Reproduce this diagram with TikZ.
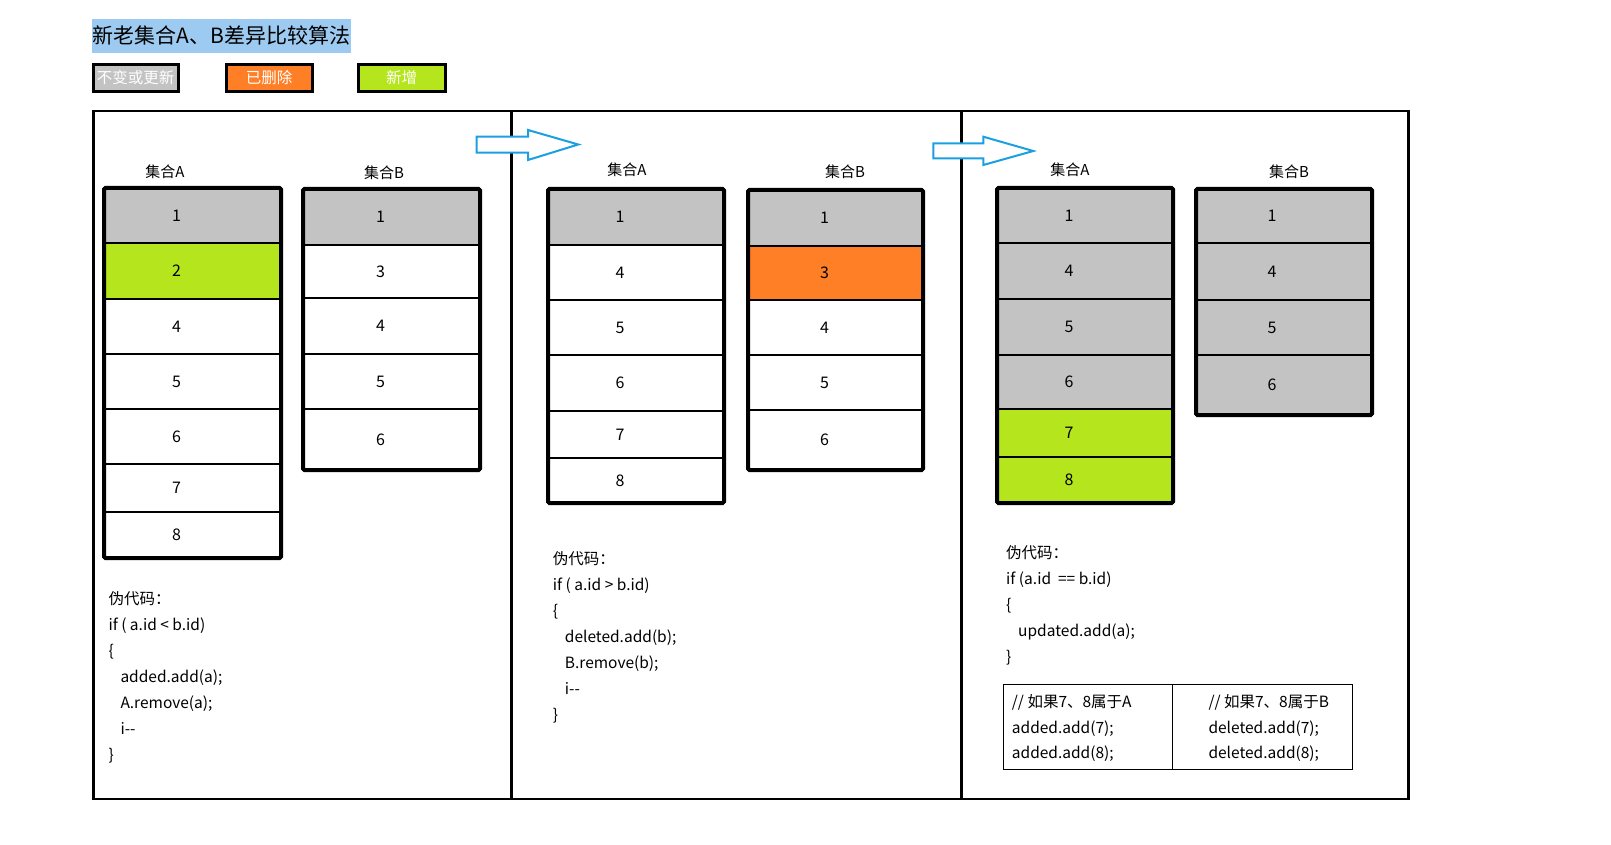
\documentclass[tikz,border=0pt]{standalone}
\usepackage{fontspec}
\setmainfont{Noto Sans CJK SC}
\usetikzlibrary{positioning}
\definecolor{setgray}{HTML}{C3C3C3}
\definecolor{setgreen}{HTML}{B5E61D}
\definecolor{setorange}{HTML}{FF7F27}
\definecolor{setblue}{HTML}{1A9FE0}
\definecolor{titleblue}{HTML}{9DCAF0}
% one column of ids: name, left, right, text shift, rows top/bottom/id/fill
\newcommand{\drawset}[5]{%
  \foreach \ya/\yb/\lbl/\fc [count=\i] in {#5} {
    \node[cell,fill=\fc,minimum width={(#3-#2)*1pt},minimum height={(\yb-\ya)*1pt}]
      (#1-\i) at ({(#2+#3)/2},{(\ya+\yb)/2}) {};
    \node[num] (#1-\i-n) at ([xshift=#4pt]#1-\i.center) {\lbl};
    \xdef\lastrow{\i}
  }
  \draw[setframe] (#1-1.north west) rectangle (#1-\lastrow.south east);
}

\begin{document}
\begin{tikzpicture}[
  x=1pt,y=-1pt,
  cell/.style={draw=black,line width=2.5pt,inner sep=0,outer sep=0},
  setframe/.style={draw=black,line width=4pt,rounded corners=1.5pt},
  num/.style={inner sep=0,font=\fontsize{16}{16}\selectfont},
  setname/.style={inner sep=0,font=\fontsize{15}{16}\selectfont},
  title/.style={fill=titleblue,minimum width=259pt,minimum height=34pt,inner sep=0,
                font=\fontsize{21}{22}\selectfont},
  legend/.style={draw=black,line width=3pt,text=white,minimum height=27pt,inner sep=0,
                 font=\fontsize{15.5}{16}\selectfont},
  rule/.style={draw=black,line width=2.5pt},
  blockarrow/.style={draw=setblue,line width=2pt,fill=white,line join=miter},
  code/.style={anchor=north west,align=left,inner sep=0,font=\fontsize{15.5}{26}\selectfont},
  tbl/.style={draw=black,line width=1.2pt,inner sep=0,outer sep=0,minimum height=85pt}
]
  \useasboundingbox (0,0) rectangle (1611,845);

  \node[title] (ttl) at (221.5,36) {新老集合A、B差异比较算法};
  \node[legend,fill=setgray,minimum width=85pt] (keep) at (135.5,78) {不变或更新};
  \node[legend,fill=setorange,minimum width=86pt] (del) at (269,78) {已删除};
  \node[legend,fill=setgreen,minimum width=87pt] (add) at (401.5,78) {新增};

  \node[rule,minimum width=1315pt,minimum height=688pt,inner sep=0,outer sep=0] (frame) at (751,455) {};
  \coordinate (cut1) at (511.7,0);
  \coordinate (cut2) at (961.7,0);
  \draw[rule] (frame.north -| cut1) -- (frame.south -| cut1);
  \draw[rule] (frame.north -| cut2) -- (frame.south -| cut2);

  \draw[blockarrow] (476.7,136.7) -- (528,136.7) -- (528,130) -- (578.3,144.5)
    -- (528,160) -- (528,152.7) -- (476.7,152.7) -- cycle;
  \draw[blockarrow] (933.3,143.3) -- (983.3,143.3) -- (983.3,136.7) -- (1033.3,151)
    -- (983.3,165) -- (983.3,158.3) -- (933.3,158.3) -- cycle;

  \node[setname] (p1a-l) at (165,172) {集合A};
  \node[setname] (p1b-l) at (384,173) {集合B};
  \node[setname] (p2a-l) at (627,170) {集合A};
  \node[setname] (p2b-l) at (845,172) {集合B};
  \node[setname] (p3a-l) at (1070,170) {集合A};
  \node[setname] (p3b-l) at (1289,172) {集合B};

  \drawset{p1a}{104}{281}{-16}{188/243/1/setgray,243/299/2/setgreen,299/354/4/white,
    354/409/5/white,409/464/6/white,464/512/7/white,512/558/8/white}
  \drawset{p1b}{303}{480}{-11}{189/245/1/setgray,245/298/3/white,298/354/4/white,
    354/409/5/white,409/470/6/white}
  \drawset{p2a}{548}{724}{-16}{189/245/1/setgray,245/300/4/white,300/355/5/white,
    355/411/6/white,411/458/7/white,458/503/8/white}
  \drawset{p2b}{748}{923}{-11}{190/246/1/setgray,246/300/3/setorange,300/355/4/white,
    355/410/5/white,410/470/6/white}
  \drawset{p3a}{997}{1173}{-16}{188/243/1/setgray,243/299/4/setgray,299/355/5/setgray,
    355/409/6/setgray,409/457/7/setgreen,457/503/8/setgreen}
  \drawset{p3b}{1196}{1372}{-12}{189/243/1/setgray,243/300/4/setgray,300/355/5/setgray,
    355/415/6/setgray}

  \node[code] (p1code) at (108.3,591) {伪代码：\\if ( a.id < b.id)\\\{\\
    \hspace*{12pt}added.add(a);\\\hspace*{12pt}A.remove(a);\\\hspace*{12pt}i-{}-\\\}};
  \node[code] (p2code) at (552.7,551) {伪代码：\\if ( a.id > b.id)\\\{\\
    \hspace*{12pt}deleted.add(b);\\\hspace*{12pt}B.remove(b);\\\hspace*{12pt}i-{}-\\\}};
  \node[code] (p3code) at (1006,545.5) {伪代码：\\if (a.id \ == b.id)\\\{\\
    \hspace*{12pt}updated.add(a);\\\}};

  \node[tbl,minimum width=169.4pt] (ifa) at (1088,726.8) {};
  \node[tbl,minimum width=180pt,anchor=west] (ifb) at (ifa.east) {};
  \node[code,font=\fontsize{15.5}{25.5}\selectfont] (ifa-t) at (1011.7,694.5)
    {// 如果7、8属于A\\added.add(7);\\added.add(8);};
  \node[code,font=\fontsize{15.5}{25.5}\selectfont] (ifb-t) at (1208.3,694.5)
    {// 如果7、8属于B\\deleted.add(7);\\deleted.add(8);};
\end{tikzpicture}
\end{document}
